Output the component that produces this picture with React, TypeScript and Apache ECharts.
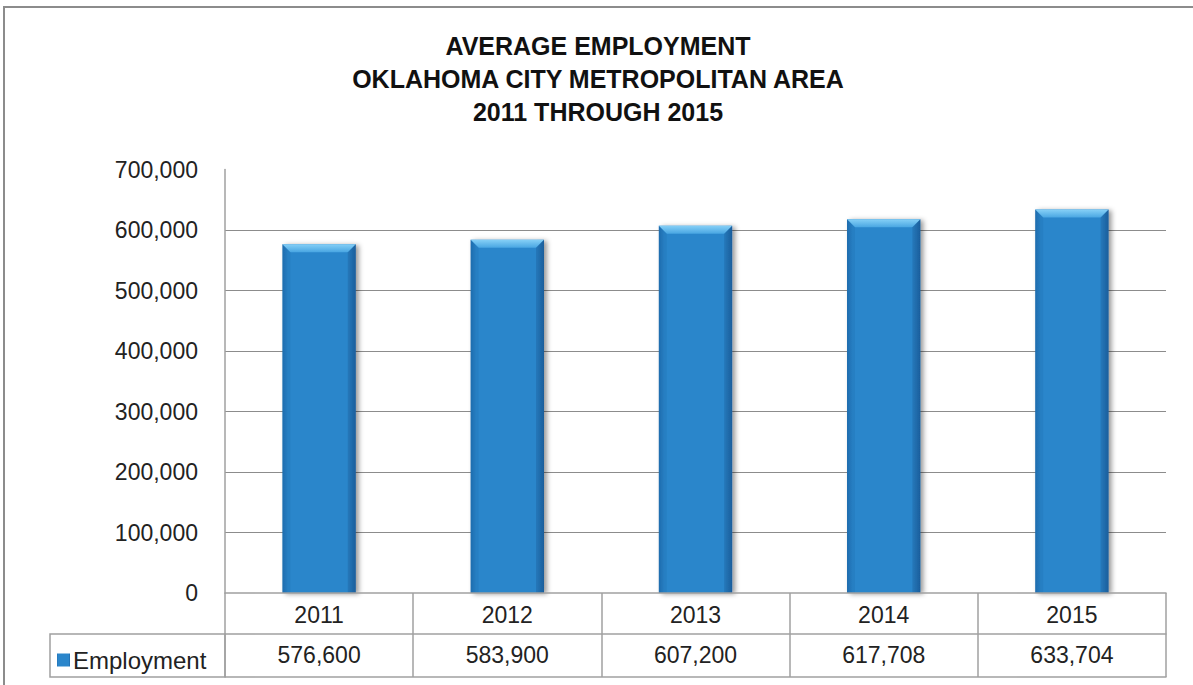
import React, { useEffect, useRef } from "react";
import * as echarts from "echarts";

const titleLines = ["AVERAGE EMPLOYMENT", "OKLAHOMA CITY METROPOLITAN AREA", "2011 THROUGH 2015"];
const years = ["2011", "2012", "2013", "2014", "2015"];
const employment = [576600, 583900, 607200, 617708, 633704];
const seriesName = "Employment";
const yTicks = [100000, 200000, 300000, 400000, 500000, 600000];
const yMax = 700000;
const yInterval = 100000;

const fmt = (v: number) => v.toLocaleString("en-US");
const FONT = "'Liberation Sans', Arial, sans-serif";
const LINE = "#a0a0a0";

export default function App() {
  const ref = useRef<HTMLDivElement>(null);
  useEffect(() => {
    document.body.style.margin = "0";
    const chart = echarts.init(ref.current!, null, { renderer: "svg" });
    const barGrad = new echarts.graphic.LinearGradient(0, 0, 1, 0, [
      { offset: 0, color: "#2170b3" },
      { offset: 0.08, color: "#2b86cb" },
      { offset: 0.9, color: "#2b86cb" },
      { offset: 1, color: "#1e68a8" },
    ]);
    chart.setOption({
      animation: false,
      backgroundColor: "#ffffff",
      textStyle: { fontFamily: FONT },
      title: {
        text: titleLines.join("\n"),
        left: 593,
        textAlign: "center",
        top: 24,
        textStyle: { fontSize: 25, fontWeight: "bold", color: "#111", lineHeight: 33, fontFamily: FONT },
      },
      legend: {
        data: [{ name: seriesName, icon: "rect" }],
        left: 52,
        top: 643,
        itemWidth: 13,
        itemHeight: 13,
        itemGap: 4,
        textStyle: { fontSize: 24, color: "#222", padding: [0, 0, 0, -2] },
        selectedMode: false,
      },
      grid: { left: 225, right: 27, top: 169.5, bottom: 92, containLabel: false },
      xAxis: [
        {
          type: "category",
          data: years,
          position: "bottom",
          axisLine: { show: true, lineStyle: { color: LINE, width: 1.5 } },
          axisTick: { show: true, length: 84, interval: 0, lineStyle: { color: LINE, width: 1.5 } },
          axisLabel: { fontSize: 23, color: "#222", margin: 10, interval: 0 },
          z: 5,
        },
        {
          type: "category",
          data: years,
          position: "bottom",
          offset: 41,
          axisLine: { show: true, lineStyle: { color: LINE, width: 1.5 } },
          axisTick: { show: false },
          axisLabel: {
            fontSize: 23,
            color: "#222",
            margin: 9,
            interval: 0,
            formatter: (_v: string, i: number) => fmt(employment[i]),
          },
        },
        {
          type: "category",
          data: years,
          position: "bottom",
          offset: 84,
          axisLine: { show: true, lineStyle: { color: LINE, width: 1.5 } },
          axisTick: { show: false },
          axisLabel: { show: false },
        },
      ],
      yAxis: {
        type: "value",
        min: 0,
        max: yMax,
        interval: yInterval,
        axisLine: { show: true, lineStyle: { color: LINE, width: 1.5 } },
        axisTick: { show: false },
        splitLine: { show: false },
        axisLabel: { fontSize: 23, color: "#222", margin: 27, formatter: (v: number) => fmt(v) },
      },
      graphic: [
        {
          type: "rect",
          shape: { x: 4, y: 7, width: 1300, height: 800 },
          style: { fill: "none", stroke: "#8c8c8c", lineWidth: 2 },
          silent: true,
        },
        {
          type: "rect",
          shape: { x: 50, y: 634, width: 175, height: 43 },
          style: { fill: "none", stroke: LINE, lineWidth: 1.5 },
          silent: true,
        },
      ],
      series: [
        {
          name: seriesName,
          type: "bar",
          data: employment,
          barWidth: "39%",
          itemStyle: {
            color: barGrad,
            shadowColor: "rgba(0,0,0,0.4)",
            shadowBlur: 5,
            shadowOffsetX: 3,
            shadowOffsetY: 1,
          },
          markLine: {
            silent: true,
            symbol: "none",
            label: { show: false },
            lineStyle: { color: "#8c8c8c", width: 1.2, type: "solid" },
            data: yTicks.map((v) => ({ yAxis: v })),
            z: 0,
          },
          z: 2,
        },
        {
          name: "bevel",
          type: "custom",
          data: employment.map((v, i) => [i, v]),
          z: 3,
          silent: true,
          renderItem: (params: any, api: any) => {
            const top = api.coord([api.value(0), api.value(1)]);
            const base = api.coord([api.value(0), 0]);
            const w = api.size([1, 0])[0] * 0.39;
            const x0 = top[0] - w / 2;
            const x1 = top[0] + w / 2;
            const y0 = top[1];
            const y1 = base[1];
            const b = 8;
            return {
              type: "group",
              children: [
                {
                  type: "polygon",
                  shape: { points: [[x0, y0], [x1, y0], [x1 - b, y0 + b], [x0 + b, y0 + b]] },
                  style: {
                    fill: new echarts.graphic.LinearGradient(0, 0, 0, 1, [
                      { offset: 0, color: "#86d0f7" },
                      { offset: 1, color: "#49a6e2" },
                    ]),
                  },
                },
                {
                  type: "polygon",
                  shape: { points: [[x0, y0], [x0 + b, y0 + b], [x0 + b, y1], [x0, y1]] },
                  style: { fill: "rgba(20,80,140,0.12)" },
                },
                {
                  type: "polygon",
                  shape: { points: [[x1, y0], [x1 - b, y0 + b], [x1 - b, y1], [x1, y1]] },
                  style: { fill: "rgba(10,50,100,0.18)" },
                },
              ],
            };
          },
        },
      ],
    });
    return () => chart.dispose();
  }, []);
  return <div ref={ref} style={{ position: "absolute", left: 0, top: 0, width: 1193, height: 685 }} />;
}
